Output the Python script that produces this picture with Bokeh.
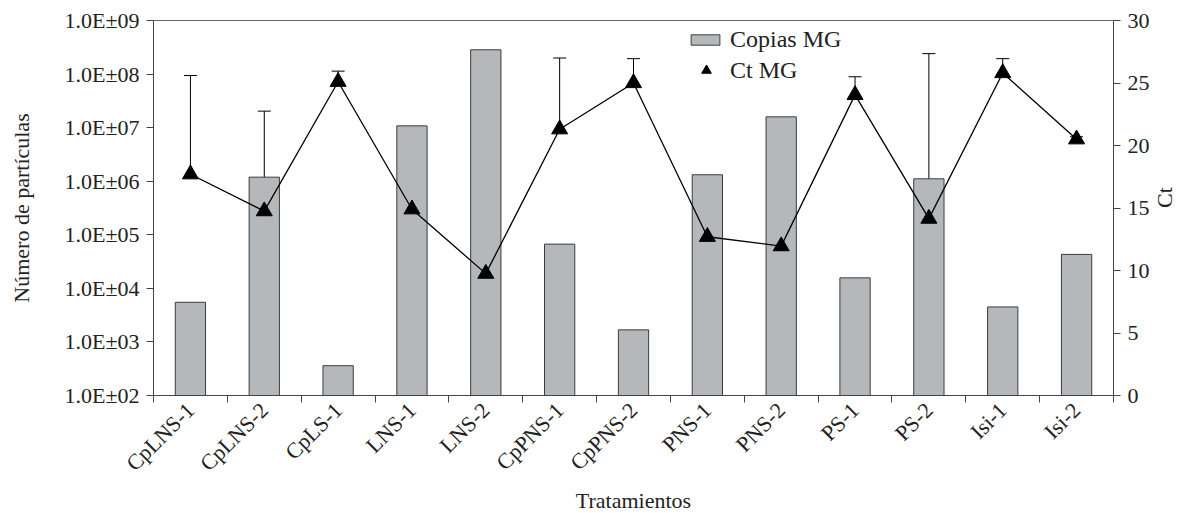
from math import pi
from bokeh.plotting import figure
from bokeh.models import (Range1d, LinearScale, LinearAxis, FixedTicker, ColumnDataSource,
                          Whisker, TeeHead, Legend, LegendItem)
from bokeh.embed import file_html
from bokeh.resources import INLINE

categories = ["CpLNS-1", "CpLNS-2", "CpLS-1", "LNS-1", "LNS-2", "CpPNS-1", "CpPNS-2",
              "PNS-1", "PNS-2", "PS-1", "PS-2", "Isi-1", "Isi-2"]
copias = [5.5e3, 1.19e6, 3.6e2, 1.08e7, 2.84e8, 6.7e4, 1.68e3,
          1.32e6, 1.59e7, 1.57e4, 1.11e6, 4.5e3, 4.3e4]
ct = [17.7, 14.75, 25.1, 14.9, 9.75, 21.3, 25.0, 12.7, 11.95, 24.05, 14.15, 25.8, 20.5]
ct_err = [7.9, 8.0, 0.85, 0.45, 0.15, 5.7, 1.95, 1.5, 0.9, 1.45, 13.2, 1.15, 0.2]
left_ticks = [1e2, 1e3, 1e4, 1e5, 1e6, 1e7, 1e8, 1e9]
left_labels = ["1.0E±02", "1.0E±03", "1.0E±04", "1.0E±05", "1.0E±06", "1.0E±07",
               "1.0E±08", "1.0E±09"]
right_ticks = [0, 5, 10, 15, 20, 25, 30]

FONT = "Liberation Serif"
FS = "22px"
INK = "#222222"

n = len(categories)
xs = [i + 0.5 for i in range(n)]
src = ColumnDataSource(dict(x=xs, cat=categories, copias=copias, ct=ct,
                            upper=[c + e for c, e in zip(ct, ct_err)], lower=ct,
                            bottom=[left_ticks[0]] * n))

p = figure(frame_width=960, frame_height=375, y_axis_type="log", x_range=Range1d(0, n),
           y_range=Range1d(left_ticks[0], left_ticks[-1]),
           output_backend="svg", toolbar_location=None,
           min_border_left=153, min_border_right=72, min_border_top=20, min_border_bottom=112)
p.extra_y_ranges = {"ct": Range1d(right_ticks[0], right_ticks[-1])}
p.extra_y_scales = {"ct": LinearScale()}

p.grid.visible = False
p.outline_line_color = "#666666"
p.background_fill_color = "white"
p.border_fill_color = "white"

bars = p.vbar(x="x", top="copias", bottom="bottom", width=0.41, source=src,
              fill_color="#b5b8bb", line_color="#3c3c3c", line_width=1)

wh = Whisker(base="x", upper="upper", lower="lower", source=src, dimension="height",
             y_range_name="ct", line_color="black", line_width=1,
             upper_head=TeeHead(size=13, line_color="black", line_width=1), lower_head=None)
p.add_layout(wh)

p.line(x="x", y="ct", source=src, y_range_name="ct", line_color="black", line_width=1.3)
tri = p.scatter(x="x", y="ct", source=src, y_range_name="ct", marker="triangle", size=16,
                fill_color="black", line_color="black")

# x axis
xa = p.xaxis[0]
xa.ticker = FixedTicker(ticks=xs, minor_ticks=list(range(n + 1)))
xa.major_label_overrides = {x: c for x, c in zip(xs, categories)}
xa.major_label_orientation = pi / 4
xa.axis_label = "Tratamientos"

# left axis
ya = p.yaxis[0]
ya.ticker = FixedTicker(ticks=left_ticks)
ya.major_label_overrides = {t: l for t, l in zip(left_ticks, left_labels)}
ya.axis_label = "Número de partículas"

# right axis
ra = LinearAxis(y_range_name="ct", ticker=FixedTicker(ticks=right_ticks), axis_label="Ct")
p.add_layout(ra, "right")

for ax in [xa, ya, ra]:
    ax.axis_line_color = "#444444"
    ax.major_label_text_font = FONT
    ax.major_label_text_font_size = FS
    ax.major_label_text_color = INK
    ax.axis_label_text_font = FONT
    ax.axis_label_text_font_size = FS
    ax.axis_label_text_font_style = "normal"
    ax.axis_label_text_color = INK

xa.major_tick_line_color = None
xa.minor_tick_line_color = "#444444"
xa.minor_tick_out = 7
xa.minor_tick_in = 0
xa.major_label_standoff = 4
xa.axis_label_standoff = 0

for ax in [ya, ra]:
    ax.major_tick_line_color = "#444444"
    ax.minor_tick_line_color = None
    ax.major_tick_out = 7
    ax.major_tick_in = 0
    ax.major_label_standoff = 7
ya.axis_label_standoff = 27
ra.axis_label_standoff = 12
try:
    ra.axis_label_orientation = pi / 2
except Exception:
    pass

leg_common = dict(label_text_font=FONT, label_text_font_size="24px", label_text_color=INK,
                  label_height=28, padding=0, margin=0, border_line_color=None,
                  background_fill_alpha=0)
leg1 = Legend(items=[LegendItem(label="Copias MG", renderers=[bars])],
              location=(534, 342), glyph_width=36, glyph_height=13, label_standoff=7,
              **leg_common)
leg2 = Legend(items=[LegendItem(label="Ct MG", renderers=[tri])],
              location=(541, 311), glyph_width=24, glyph_height=24, label_standoff=12,
              **leg_common)
p.add_layout(leg1)
p.add_layout(leg2)

open("out.html", "w").write(file_html(p, INLINE))
